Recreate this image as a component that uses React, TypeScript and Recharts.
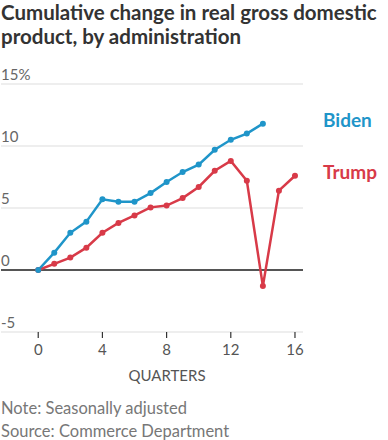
import React from "react";
import { LineChart, Line, XAxis, YAxis, CartesianGrid, ReferenceLine } from "recharts";

const quarters = [0, 1, 2, 3, 4, 5, 6, 7, 8, 9, 10, 11, 12, 13, 14, 15, 16];
const biden = [0, 1.4, 3.0, 3.9, 5.7, 5.5, 5.5, 6.2, 7.1, 7.9, 8.5, 9.7, 10.5, 11.0, 11.8];
const trump = [0, 0.5, 1.0, 1.8, 3.0, 3.8, 4.4, 5.05, 5.2, 5.8, 6.7, 8.0, 8.8, 7.2, -1.3, 6.4, 7.6];
const yTicks = [-5, 0, 5, 10, 15];
const xTicks = [0, 4, 8, 12, 16];

const BLUE = "#1f95c9";
const RED = "#d83a48";
const FONT = "Lato, 'Open Sans', sans-serif";

const data = quarters.map((q, i) => ({
  q,
  biden: i < biden.length ? biden[i] : null,
  trump: trump[i],
}));

const renderYTick = (props: any) => {
  const { y, payload } = props;
  return (
    <text x={1} y={y - 4} fill="#666" fontSize={15} fontFamily={FONT} textAnchor="start">
      {payload.value === 15 ? "15%" : payload.value}
    </text>
  );
};

export default function App() {
  return (
    <div
      style={{
        position: "absolute",
        left: 0,
        top: 0,
        width: 388,
        height: 440,
        background: "#fff",
        fontFamily: FONT,
        overflow: "hidden",
      }}
    >
      <div
        style={{
          position: "absolute",
          left: 1,
          top: 0,
          width: 388,
          fontSize: 20.5,
          fontWeight: 700,
          lineHeight: "24px",
          color: "#333",
        }}
      >
        Cumulative change in real gross domestic product, by administration
      </div>
      <div style={{ position: "absolute", left: 0, top: 0 }}>
        <LineChart
          width={388}
          height={440}
          data={data}
          margin={{ top: 84, right: 85, left: 0, bottom: 78 }}
        >
          <CartesianGrid vertical={false} stroke="#ddd" strokeWidth={1} />
          <XAxis
            dataKey="q"
            type="number"
            domain={[-2.32, 16.5]}
            ticks={xTicks}
            height={30}
            axisLine={false}
            tickLine={{ stroke: "#333", strokeWidth: 1.2 }}
            tickSize={6}
            tick={{ fill: "#555", fontSize: 15, fontFamily: FONT }}
            tickMargin={6}
            allowDataOverflow
          />
          <YAxis
            width={1}
            domain={[-5, 15]}
            ticks={yTicks}
            axisLine={false}
            tickLine={false}
            tick={renderYTick}
            interval={0}
          />
          <ReferenceLine y={0} stroke="#222" strokeWidth={1.3} />
          <Line
            dataKey="trump"
            stroke={RED}
            strokeWidth={2.5}
            dot={{ r: 3, fill: RED, stroke: RED, strokeWidth: 0 }}
            isAnimationActive={false}
          />
          <Line
            dataKey="biden"
            stroke={BLUE}
            strokeWidth={2.5}
            dot={{ r: 3, fill: BLUE, stroke: BLUE, strokeWidth: 0 }}
            isAnimationActive={false}
          />
        </LineChart>
      </div>
      <div style={{ position: "absolute", left: 323, top: 108, fontSize: 19, fontWeight: 700, color: BLUE }}>
        Biden
      </div>
      <div style={{ position: "absolute", left: 323, top: 160, fontSize: 19, fontWeight: 700, color: RED }}>
        Trump
      </div>
      <div style={{ position: "absolute", left: 0, top: 366, width: 334, textAlign: "center", fontSize: 15, color: "#555" }}>
        QUARTERS
      </div>
      <div style={{ position: "absolute", left: 1, top: 397, fontSize: 16.5, lineHeight: "23px", color: "#777" }}>
        Note: Seasonally adjusted
        <br />
        Source: Commerce Department
      </div>
    </div>
  );
}
